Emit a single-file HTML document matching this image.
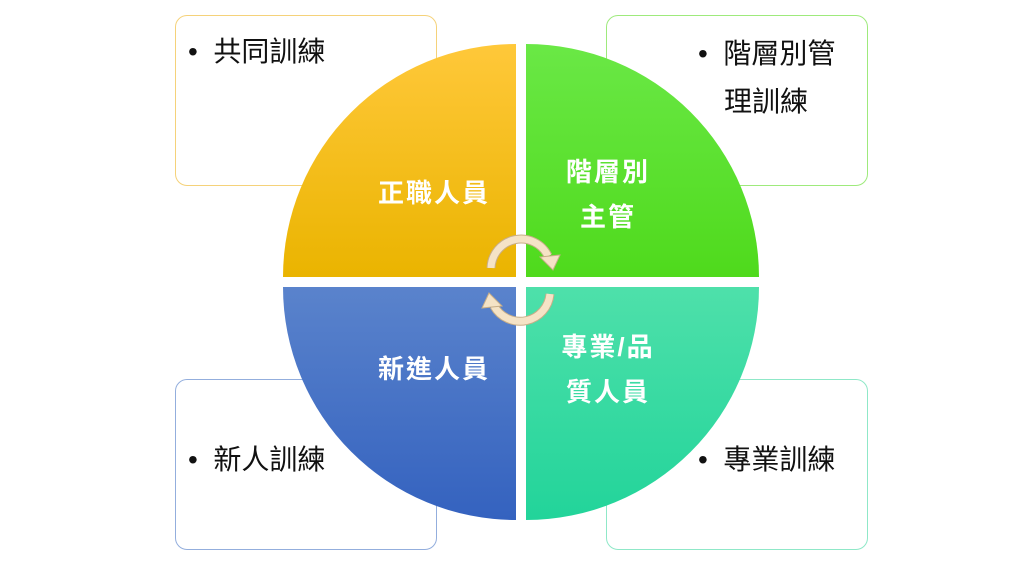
<!DOCTYPE html>
<html><head><meta charset="utf-8"><style>
body{margin:0;width:1024px;height:576px;background:#fff;overflow:hidden;position:relative;font-family:"Liberation Sans","Noto Sans CJK TC",sans-serif}
.box{position:absolute;width:262px;height:171px;border:1px solid;border-radius:12px;background:#fff;box-sizing:border-box}
.t{position:absolute;font-size:28px;color:#111;line-height:48px;white-space:nowrap}
.w{position:absolute;color:#fff;font-size:26px;font-weight:bold;letter-spacing:2px;line-height:45px;text-align:center;width:200px;white-space:nowrap}
</style></head><body>
<div class="box" style="left:175px;top:15px;border-color:#f5d27a"></div>
<div class="box" style="left:606px;top:15px;border-color:#9eea7c"></div>
<div class="box" style="left:175px;top:379px;border-color:#93aedd"></div>
<div class="box" style="left:606px;top:379px;border-color:#8fe8c8"></div>
<div class="t" style="left:188px;top:28px">•&nbsp;&nbsp;共同訓練</div>
<div class="t" style="left:698px;top:30px">•&nbsp;&nbsp;階層別管<br><span style="padding-left:26px">理訓練</span></div>
<div class="t" style="left:188px;top:436px">•&nbsp;&nbsp;新人訓練</div>
<div class="t" style="left:698px;top:436px">•&nbsp;&nbsp;專業訓練</div>
<svg style="position:absolute;left:0;top:0" width="1024" height="576">
<defs>
<linearGradient id="a" x1="0" y1="0" x2="0" y2="1"><stop offset="0" stop-color="#ffc83a"/><stop offset="1" stop-color="#eab400"/></linearGradient>
<linearGradient id="b" x1="0" y1="0" x2="0" y2="1"><stop offset="0" stop-color="#6ae846"/><stop offset="1" stop-color="#4fda1c"/></linearGradient>
<linearGradient id="c" x1="0" y1="0" x2="0" y2="1"><stop offset="0" stop-color="#5a83cc"/><stop offset="1" stop-color="#3462bf"/></linearGradient>
<linearGradient id="d" x1="0" y1="0" x2="0" y2="1"><stop offset="0" stop-color="#4ee0aa"/><stop offset="1" stop-color="#22d49a"/></linearGradient>
</defs>
<path d="M516,277 L283,277 A233,233 0 0 1 516,44 Z" fill="url(#a)"/>
<path d="M526,277 L526,44 A233,233 0 0 1 759,277 Z" fill="url(#b)"/>
<path d="M516,287 L516,520 A233,233 0 0 1 283,287 Z" fill="url(#c)"/>
<path d="M526,287 L759,287 A233,233 0 0 1 526,520 Z" fill="url(#d)"/>
<g fill="none" stroke="#c8ae88" stroke-width="9">
<path d="M491,268 A30,30 0 0 1 548,256"/>
<path d="M550,294 A30,30 0 0 1 494,306"/>
</g>
<g fill="none" stroke="#f5e3c6" stroke-width="7">
<path d="M491,268 A30,30 0 0 1 548,256"/>
<path d="M550,294 A30,30 0 0 1 494,306"/>
</g>
<polygon points="540,257 560,255 553,270" fill="#f5e3c6" stroke="#c8ae88" stroke-width="1"/>
<polygon points="502,306 482,308 489,293" fill="#f5e3c6" stroke="#c8ae88" stroke-width="1"/>
</svg>
<div class="w" style="left:334px;top:171px">正職人員</div>
<div class="w" style="left:508px;top:150px">階層別<br>主管</div>
<div class="w" style="left:334px;top:347px">新進人員</div>
<div class="w" style="left:508px;top:325px">專業/品<br>質人員</div>
</body></html>
